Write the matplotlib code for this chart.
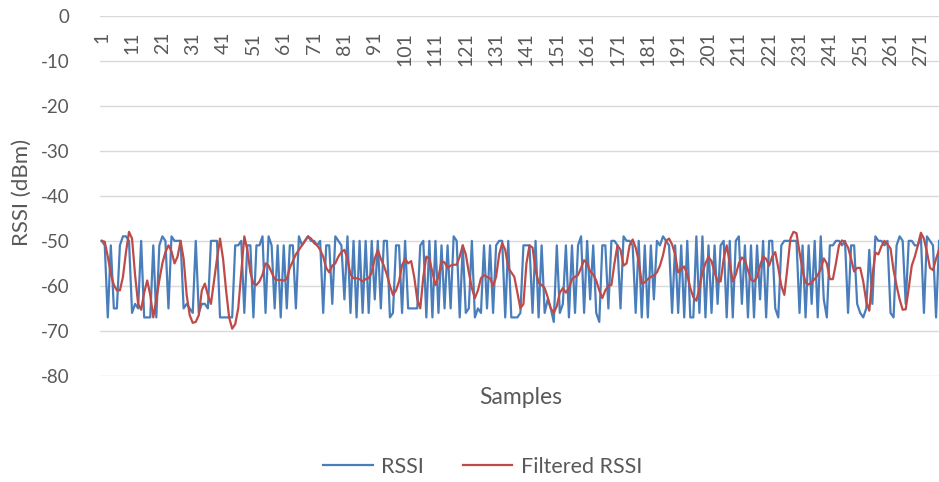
import numpy as np
import matplotlib.pyplot as plt

# samples 1..277
rssi = [
    -50, -51, -67, -51, -65, -65, -51, -49, -49, -50,
    -66, -64, -65, -50, -67, -67, -67, -51, -67, -51,
    -49, -50, -65, -49, -50, -50, -50, -65, -64, -65,
    -66, -50, -66, -64, -64, -65, -50, -50, -50, -67,
    -67, -67, -67, -67, -51, -51, -50, -66, -51, -51,
    -67, -51, -51, -49, -66, -49, -51, -65, -51, -67,
    -51, -65, -51, -51, -65, -49, -51, -50, -49, -50,
    -50, -51, -50, -66, -51, -51, -64, -49, -50, -51,
    -63, -49, -66, -50, -67, -50, -66, -50, -66, -50,
    -63, -50, -65, -50, -50, -67, -66, -51, -51, -66,
    -50, -65, -65, -65, -65, -51, -50, -67, -50, -67,
    -50, -66, -51, -65, -51, -65, -49, -50, -67, -51,
    -66, -65, -50, -67, -65, -66, -51, -65, -51, -66,
    -51, -50, -50, -67, -50, -67, -67, -67, -66, -51,
    -51, -51, -66, -50, -67, -51, -66, -63, -65, -68,
    -51, -66, -64, -51, -67, -51, -66, -51, -49, -66,
    -50, -63, -51, -66, -68, -51, -51, -65, -50, -50,
    -51, -65, -49, -50, -50, -51, -66, -50, -67, -51,
    -67, -51, -63, -50, -51, -49, -50, -51, -66, -51,
    -66, -51, -67, -50, -67, -67, -49, -66, -49, -67,
    -51, -66, -51, -64, -51, -50, -67, -50, -67, -50,
    -49, -64, -51, -67, -51, -67, -51, -63, -50, -67,
    -50, -50, -65, -67, -51, -50, -50, -50, -50, -50,
    -66, -51, -67, -51, -64, -50, -67, -49, -63, -67,
    -51, -51, -50, -50, -51, -50, -66, -51, -51, -64,
    -66, -67, -65, -52, -64, -49, -50, -50, -51, -50,
    -66, -67, -51, -49, -50, -64, -50, -50, -51, -51,
    -49, -66, -49, -50, -51, -67, -50,
]

filtered = [
    -50, -50.2, -53.5, -57.3, -59.8, -61, -61, -58, -52.5, -48,
    -49.5, -57.6, -64, -65.3, -61.5, -58.8, -62, -67, -63, -58.7,
    -55, -52.5, -51, -52.3, -55, -53.5, -50, -54, -62, -66.5,
    -68.2, -68, -66.5, -61, -59.5, -62, -64, -59, -54, -49.5,
    -54, -61, -67, -69.5, -68.5, -65, -57, -49, -52, -57,
    -59.5, -59.8, -59, -57.5, -55, -55.5, -57, -58.5, -58.7, -58.7,
    -58.8, -58.5, -56, -54.5, -53, -52, -51, -50, -49, -49.5,
    -50.5, -51, -52, -53.5, -56, -57, -55.5, -55, -53.5, -52.5,
    -52, -54, -57.5, -58.3, -58.3, -58.5, -59, -58.5, -58.3, -57,
    -54, -52, -54, -55.5, -57.5, -60, -62, -61, -59, -55.4,
    -54, -55, -54.5, -58, -63, -65, -58, -53.5, -54, -57,
    -59.8, -58, -54.5, -54.8, -56, -55.5, -55.3, -55.3, -53.5, -51,
    -53, -57, -60.5, -62.7, -61, -58.3, -57.6, -58, -58.3, -60,
    -58, -53, -50.5, -52, -56, -57, -58, -61.5, -65, -64,
    -55, -51, -51.5, -56.5, -59.3, -59.8, -60.5, -62.5, -65, -66,
    -64.5, -61.5, -60.5, -61.5, -60.5, -58.5, -58, -57.6, -56, -54.3,
    -55, -56.8, -57.5, -58.8, -61, -62.7, -61, -60, -59.8, -55,
    -51, -52, -55.5, -55, -51, -49.7, -51.5, -54.5, -59.5, -59.2,
    -58.5, -58, -57.7, -57, -55.5, -53.2, -50, -49.5, -50.8, -53,
    -57, -56.2, -55.7, -57.5, -60.5, -62.5, -63.3, -60.5, -57, -55,
    -53.6, -54.5, -57, -59, -59, -54, -51, -55, -59, -57.5,
    -55, -53.7, -54.3, -56.5, -58.6, -59, -58, -55.5, -53.5, -54,
    -55.5, -53.5, -52.5, -56, -60, -62, -56, -49.5, -48, -48.3,
    -52.5, -56.5, -59.3, -59.7, -59.2, -58.5, -57.6, -56.3, -53.9, -55,
    -58.5, -58.5, -55, -51, -49.9, -50.3, -51.5, -54, -56.8, -56,
    -56, -59, -63.5, -65.5, -58, -52.6, -53, -51.2, -50, -50.8,
    -51.7, -56.5, -60, -63, -65.3, -65.2, -60.5, -55.5, -53.5, -51,
    -48.2, -49.5, -52.5, -56, -56.5, -54, -52,
]

samples = np.arange(1, len(rssi) + 1)
x_ticks = list(range(1, len(rssi) + 1, 10))
y_ticks = list(range(0, -81, -10))

plt.rcParams['font.family'] = ['Lato', 'DejaVu Sans']
txt = '#595959'

fig = plt.figure(figsize=(9.39, 4.82), dpi=100)
ax = fig.add_axes([0.1067, 0.22, 0.895, 0.7475])

ax.plot(samples, rssi, color='#4A7EBB', lw=1.6, label='RSSI')
ax.plot(samples, filtered, color='#BE4B48', lw=1.6, label='Filtered RSSI')

ax.set_xlim(0.5, len(rssi) + 0.5)
ax.set_ylim(-80, 0)
ax.set_yticks(y_ticks)
ax.set_yticklabels([str(v) for v in y_ticks], fontsize=13.5, color=txt)
ax.tick_params(axis='y', length=0, pad=22)
ax.grid(axis='y', color='#d9d9d9', lw=1)
ax.set_axisbelow(True)
for s in ax.spines.values():
    s.set_visible(False)

# category labels sit just under the zero line
ax.set_xticks([])
for t in x_ticks:
    ax.text(t, -3.6, str(t), rotation=90, ha='center', va='top',
            fontsize=14, color=txt, transform=ax.transData)

ax.set_xlabel('Samples', fontsize=16.5, color=txt, labelpad=8)
fig.text(0.023, 0.6, 'RSSI (dBm)', rotation=90, ha='center', va='center',
         fontsize=16, color=txt)

fig.legend(loc='center', bbox_to_anchor=(0.514, 1 - 467 / 482), ncol=2,
           frameon=False, fontsize=15.5, labelcolor=txt, handlelength=2.3,
           columnspacing=1.8, handletextpad=0.4)

fig.savefig('out.png', dpi=100)
